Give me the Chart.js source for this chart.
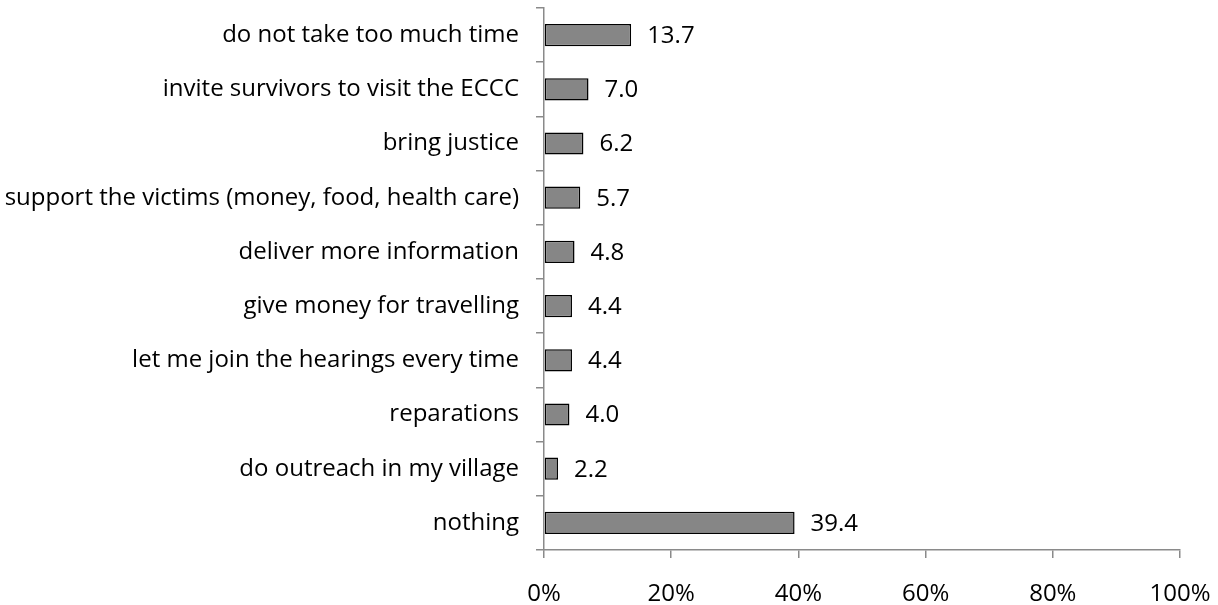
<!DOCTYPE html>
<html>
<head>
<meta charset="utf-8">
<script src="https://cdn.jsdelivr.net/npm/chart.js@4"></script>
<style>
html,body{margin:0;padding:0;background:#fff;}
#wrap{width:1218px;height:605px;}
</style>
</head>
<body>
<div id="wrap"><canvas id="c" width="1218" height="605"></canvas></div>
<script>
const categories = [
  "do not take too much time",
  "invite survivors to visit the ECCC",
  "bring justice",
  "support the victims (money, food, health care)",
  "deliver more information",
  "give money for travelling",
  "let me join the hearings every time",
  "reparations",
  "do outreach in my village",
  "nothing"
];
const values = [13.7, 7.0, 6.2, 5.7, 4.8, 4.4, 4.4, 4.0, 2.2, 39.4];
const xTicks = [0, 20, 40, 60, 80, 100];

const FONT = "'Open Sans', sans-serif";
const FSIZE = 24;
const axisColor = "#8a8a8a";

const valueLabels = {
  id: 'valueLabels',
  afterDatasetsDraw(chart) {
    const ctx = chart.ctx;
    const meta = chart.getDatasetMeta(0);
    ctx.save();
    ctx.font = FSIZE + "px " + FONT;
    ctx.fillStyle = "#000";
    ctx.textAlign = "left";
    ctx.textBaseline = "middle";
    meta.data.forEach((bar, i) => {
      ctx.fillText(values[i].toFixed(1), bar.x + 16, bar.y + 1);
    });
    ctx.restore();
  }
};

new Chart(document.getElementById('c'), {
  type: 'bar',
  data: {
    labels: categories,
    datasets: [{
      data: values,
      backgroundColor: "#868686",
      borderColor: "#000",
      borderWidth: 1.5,
      borderSkipped: false,
      barPercentage: 0.41,
      categoryPercentage: 1
    }]
  },
  options: {
    indexAxis: 'y',
    responsive: false,
    animation: false,
    devicePixelRatio: 1,
    layout: { padding: { top: 8, right: 38, left: 0, bottom: 0 } },
    plugins: { legend: { display: false }, tooltip: { enabled: false } },
    scales: {
      x: {
        min: 0, max: 100,
        afterBuildTicks(s) { s.ticks = xTicks.map(v => ({ value: v })); },
        afterFit(s) { s.height = 55; s.paddingLeft = 0; s.paddingRight = 0; },
        border: { color: axisColor, width: 1.5 },
        grid: { drawOnChartArea: false, color: axisColor, lineWidth: 1.5, tickLength: 8 },
        ticks: { color: "#000", font: { family: FONT, size: FSIZE }, padding: 22,
          callback: v => v + "%" }
      },
      y: {
        afterFit(s) { s.width = 544; s.paddingTop = 0; s.paddingBottom = 0; },
        border: { color: axisColor, width: 1.5 },
        grid: { drawOnChartArea: false, color: axisColor, lineWidth: 1.5, tickLength: 8, offset: true },
        ticks: { color: "#000", font: { family: FONT, size: FSIZE }, padding: 17, autoSkip: false }
      }
    }
  },
  plugins: [valueLabels]
});
</script>
</body>
</html>
